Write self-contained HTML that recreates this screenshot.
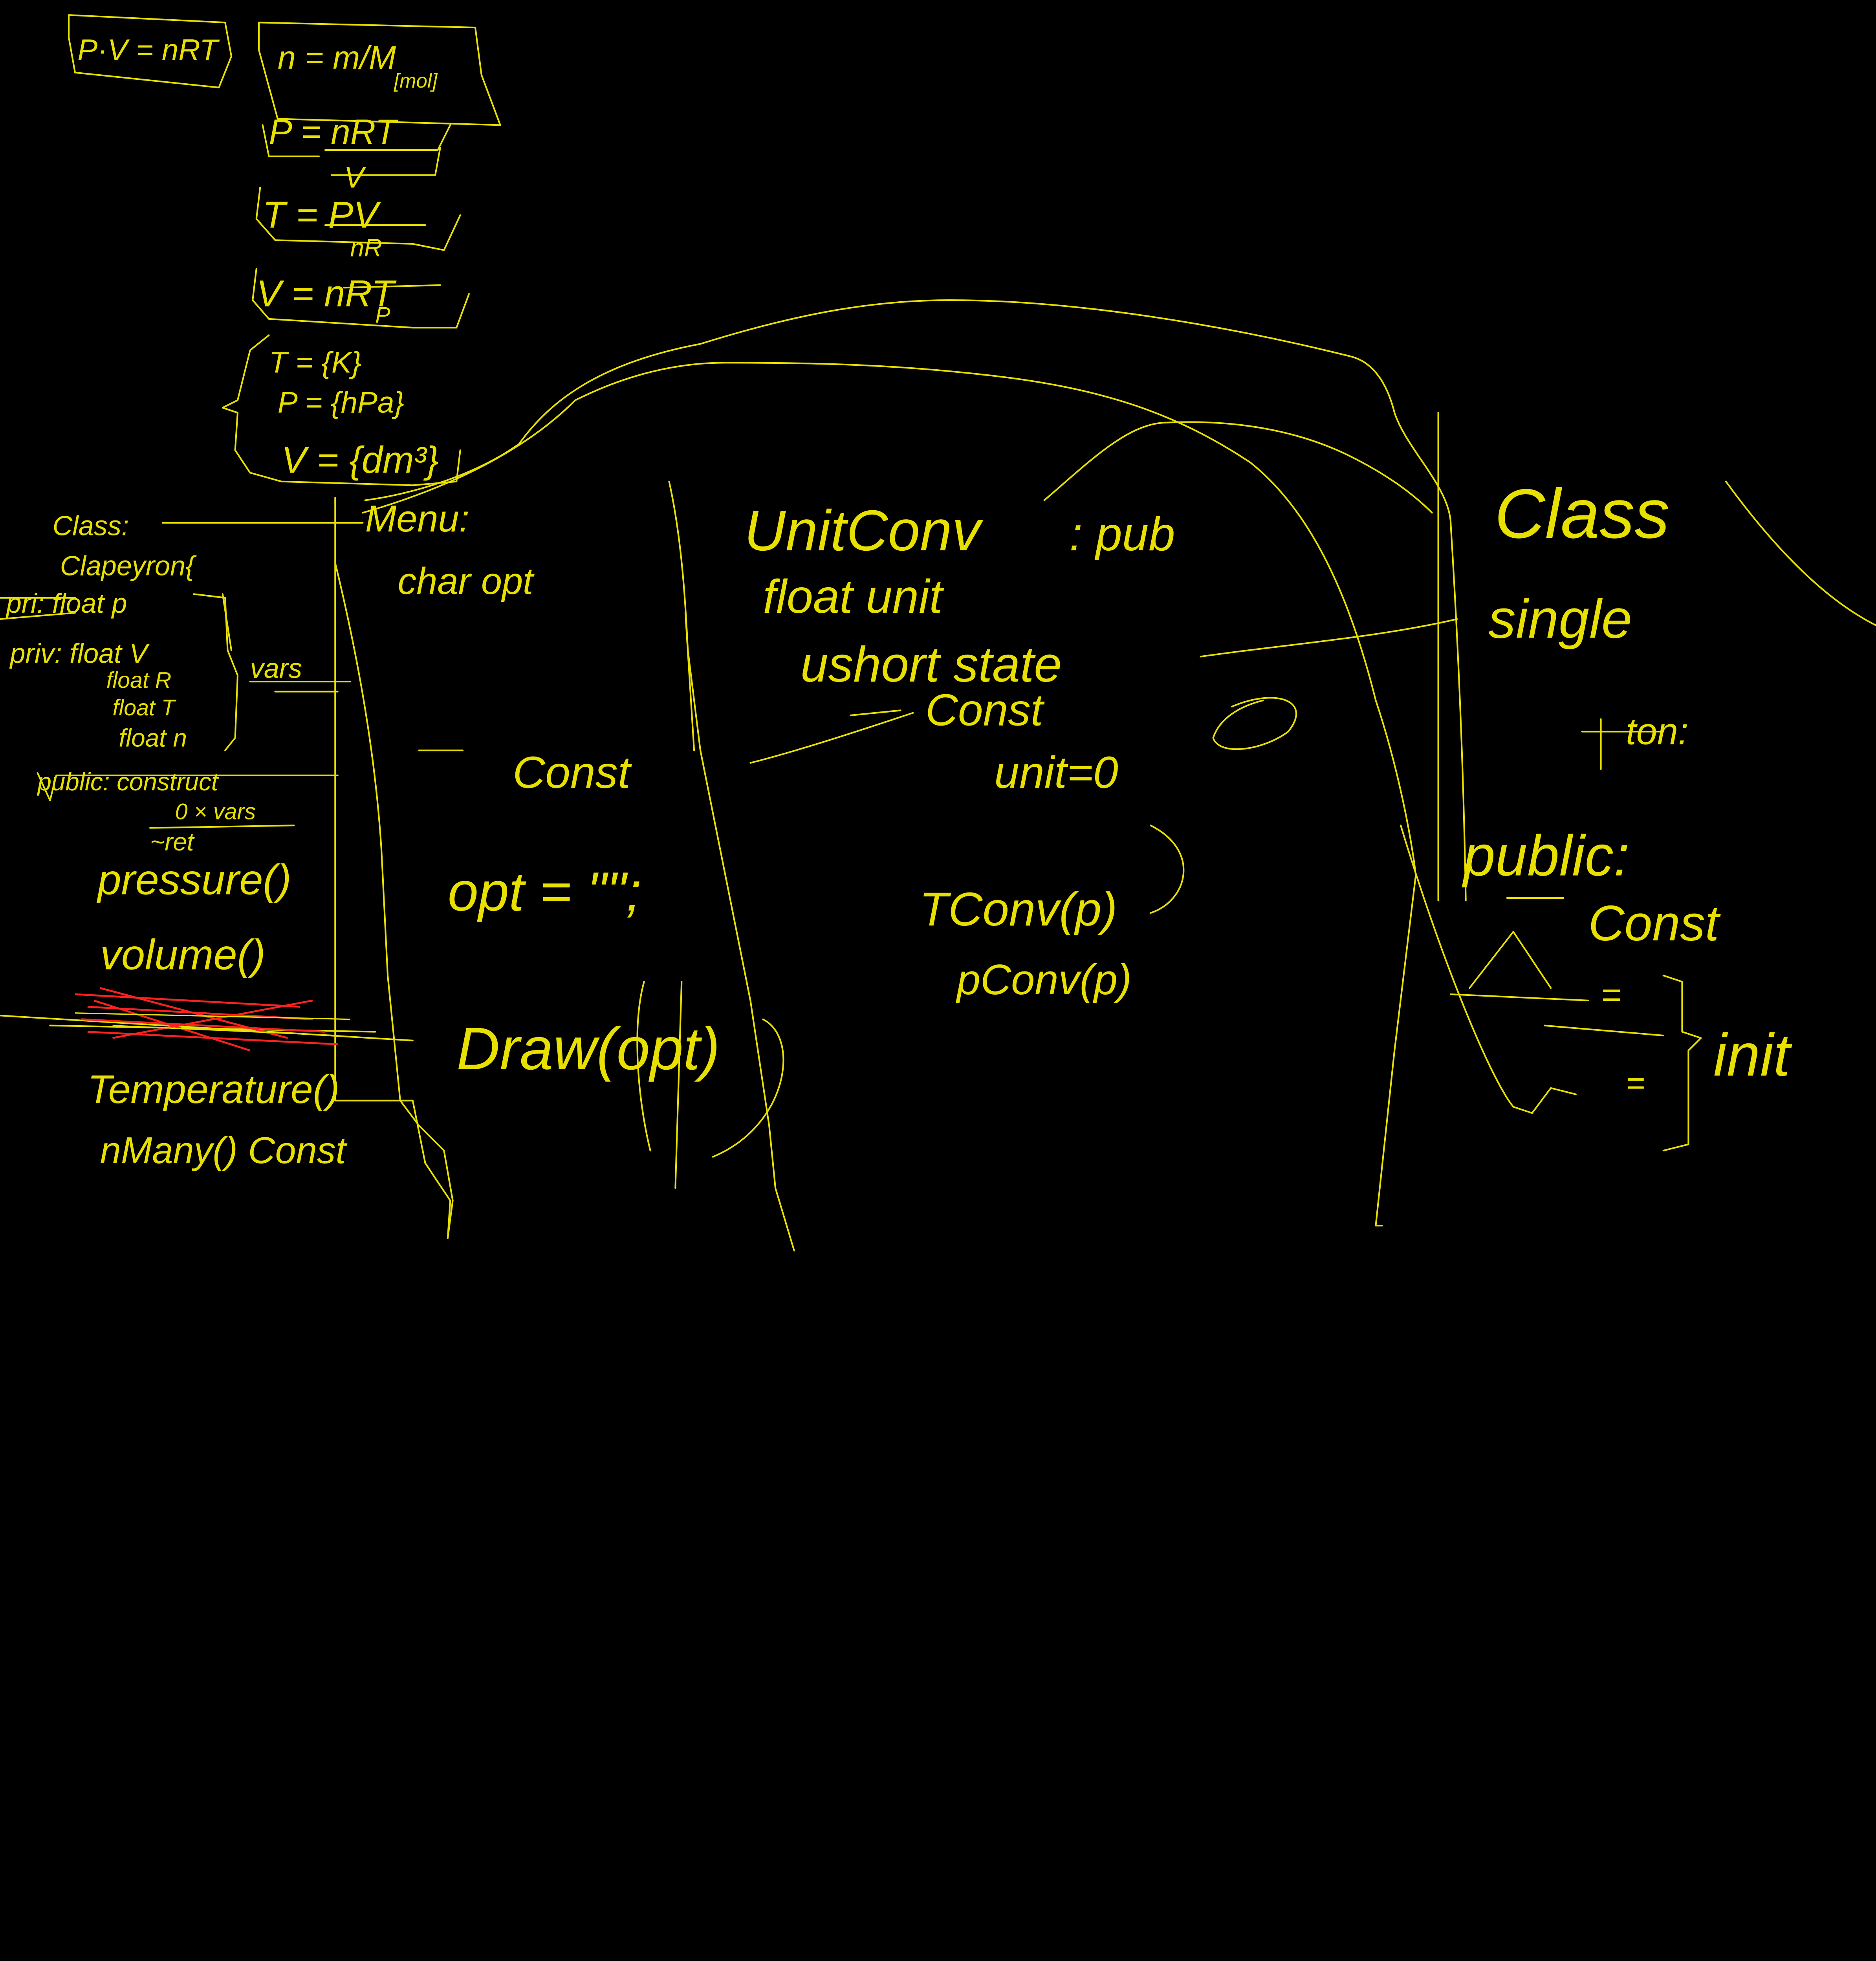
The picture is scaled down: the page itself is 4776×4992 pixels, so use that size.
<!DOCTYPE html>
<html><head><meta charset="utf-8"><style>
html,body{margin:0;padding:0;background:#000;}
svg{display:block;}
text{font-family:"Liberation Sans",sans-serif;fill:#e8e000;font-style:italic;}
</style></head><body>
<svg width="4776" height="4992" viewBox="0 0 1500 1568" preserveAspectRatio="none" xmlns="http://www.w3.org/2000/svg">
<rect width="1500" height="1568" fill="#000"/>
<g fill="none" stroke="#e8e000" stroke-width="1.3" stroke-linecap="round" stroke-linejoin="round">
<!-- top-left boxes -->
<path d="M55 12 L180 18 L185 45 L175 70 L60 58 L55 30 Z"/>
<path d="M207 18 L380 22 L385 60 L400 100 L222 95 L207 40 Z"/>
<path d="M210 100 L215 125 L255 125 M260 120 L350 120 L360 100 M352 118 L348 140 L265 140"/>
<path d="M208 150 L205 175 L220 192 L330 195 L355 200 L368 172 M260 180 L340 180"/>
<path d="M205 215 L202 240 L215 255 L330 262 L365 262 L375 235 M275 230 L352 228"/>
<!-- brace box -->
<path d="M215 268 L200 280 L195 300 L190 320 L178 326 L190 330 L188 360 L200 378 L225 385 L330 388 L365 385 L368 360"/>
<!-- big arches -->
<path d="M292 400 C330 395 380 380 415 355 C440 320 480 290 560 275 C640 250 700 240 760 240 C860 240 980 260 1080 285 C1100 290 1110 310 1115 330 C1125 360 1160 390 1160 420 C1165 500 1170 600 1172 720"/>
<path d="M290 410 C360 390 420 360 460 320 C500 300 540 290 580 290 C660 290 720 292 790 300 C880 310 940 330 1000 370 C1050 410 1080 480 1100 560 C1120 620 1130 680 1132 700 L1115 840 L1100 980 M1100 980 L1105 980"/>
<path d="M835 400 C870 370 900 340 930 338 C990 335 1040 345 1080 365 C1110 380 1130 395 1145 410"/>
<path d="M1150 330 L1150 720"/>
<path d="M1120 660 C1150 760 1190 860 1210 885 L1225 890 L1240 870 L1260 875"/>
<!-- vertical dividers -->
<path d="M268 398 L268 880 L330 880 L340 930 L360 960 L358 990"/>
<path d="M268 450 C285 520 300 600 305 680 L310 780 L320 880 L335 900 L355 920 L362 960 L358 990"/>
<path d="M535 385 C545 430 548 480 550 520 L560 600 L580 700 L600 800 L615 900 L620 950 L635 1000"/>
<path d="M548 490 L555 600"/>
<!-- horizontal connectors -->
<path d="M130 418 L290 418"/>
<path d="M960 525 C1030 515 1100 510 1165 495"/>
<path d="M600 610 C640 600 700 580 730 570"/>
<path d="M1380 385 C1420 440 1460 480 1500 500"/>
<!-- left class box braces -->
<path d="M155 475 L180 478 L182 520 L190 540 L188 590 L180 600"/>
<path d="M178 475 L185 520"/>
<path d="M0 478 L60 478 M0 495 L60 490"/>
<path d="M30 618 L40 640 L45 620 L270 620"/>
<path d="M120 662 L235 660"/>
<path d="M0 812 L330 832 M40 820 L300 825"/>
<path d="M200 545 L280 545 M220 553 L270 553"/>
<path d="M335 600 L370 600"/>
<path d="M680 572 L720 568"/>
<!-- right side -->
<path d="M1265 585 L1330 585 M1280 575 L1280 615"/>
<path d="M1160 795 L1270 800 M1175 790 L1210 745 L1240 790"/>
<path d="M1205 718 L1250 718"/>
<path d="M1235 820 L1330 828"/>
<path d="M1330 780 L1345 785 L1345 825 L1360 830 L1350 840 L1350 915 L1330 920"/>
<!-- parens / misc -->
<path d="M515 785 C505 820 510 880 520 920 M545 785 L540 950 M610 815 C640 830 630 900 570 925"/>
<path d="M920 660 C960 680 950 720 920 730"/>
<path d="M985 565 C1020 550 1050 560 1030 585 C1010 600 975 605 970 590 C975 575 990 565 1010 560"/>
</g>
<!-- red scribble -->
<g fill="none" stroke="#ff2020" stroke-width="1.5">
<path d="M60 795 L240 805 M70 805 L250 815 M65 815 L260 825 M70 825 L270 835 M80 790 L230 830 M90 830 L250 800 M75 800 L200 840"/>
</g>
<g stroke="#e8e000" stroke-width="1" fill="none"><path d="M60 810 L280 815 M90 820 L270 828"/></g>
<!-- text -->
<g>
<text x="62" y="48" font-size="24">P·V = nRT</text>
<text x="222" y="55" font-size="26">n = m/M</text>
<text x="315" y="70" font-size="16">[mol]</text>
<text x="215" y="115" font-size="28">P = nRT</text>
<text x="275" y="150" font-size="24">V</text>
<text x="210" y="182" font-size="30">T = PV</text>
<text x="280" y="205" font-size="20">nR</text>
<text x="205" y="245" font-size="30">V = nRT</text>
<text x="300" y="258" font-size="18">P</text>
<text x="215" y="298" font-size="24">T = {K}</text>
<text x="222" y="330" font-size="24">P = {hPa}</text>
<text x="225" y="378" font-size="30">V = {dm³}</text>
<text x="42" y="428" font-size="22">Class:</text>
<text x="48" y="460" font-size="22">Clapeyron{</text>
<text x="5" y="490" font-size="22">pri: float p</text>
<text x="8" y="530" font-size="22">priv: float V</text>
<text x="85" y="550" font-size="18">float R</text>
<text x="90" y="572" font-size="18">float T</text>
<text x="95" y="597" font-size="20">float n</text>
<text x="200" y="542" font-size="22">vars</text>
<text x="30" y="632" font-size="20">public: construct</text>
<text x="140" y="655" font-size="18">0 × vars</text>
<text x="120" y="680" font-size="20">~ret</text>
<text x="78" y="715" font-size="34">pressure()</text>
<text x="80" y="775" font-size="34">volume()</text>
<text x="70" y="882" font-size="32">Temperature()</text>
<text x="80" y="930" font-size="30">nMany() Const</text>
<text x="292" y="425" font-size="30">Menu:</text>
<text x="318" y="475" font-size="30">char opt</text>
<text x="410" y="630" font-size="36">Const</text>
<text x="358" y="728" font-size="44">opt = "";</text>
<text x="365" y="855" font-size="48">Draw(opt)</text>
<text x="595" y="440" font-size="46">UnitConv</text>
<text x="855" y="440" font-size="38">: pub</text>
<text x="610" y="490" font-size="38">float unit</text>
<text x="640" y="545" font-size="40">ushort state</text>
<text x="740" y="580" font-size="36">Const</text>
<text x="795" y="630" font-size="36">unit=0</text>
<text x="735" y="740" font-size="38">TConv(p)</text>
<text x="765" y="795" font-size="34">pConv(p)</text>
<text x="1195" y="430" font-size="56">Class</text>
<text x="1190" y="510" font-size="44">single</text>
<text x="1300" y="595" font-size="30">ton:</text>
<text x="1170" y="700" font-size="46">public:</text>
<text x="1270" y="752" font-size="40">Const</text>
<text x="1280" y="805" font-size="28">=</text>
<text x="1370" y="860" font-size="48">init</text>
<text x="1300" y="875" font-size="26">=</text>
</g>
</svg>
</body></html>
